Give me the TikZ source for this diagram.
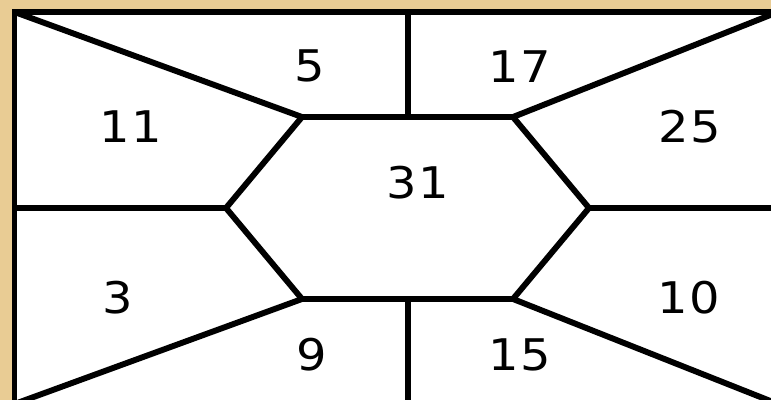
\documentclass[tikz,border=0pt]{standalone}
\usepackage{fontspec}
\setmainfont{DejaVu Sans}[FakeStretch=1.1, LetterSpace=4]
\definecolor{paper}{RGB}{233,204,148}
\begin{document}
\begin{tikzpicture}[x=0.025cm, y=-0.025cm,
  wall/.style={line width=4.2pt},
  num/.style={font=\fontsize{31}{34}\selectfont, inner sep=0pt},
]
  \useasboundingbox (0,0) rectangle (771,400);
  \clip (0,0) rectangle (771,400);
  \fill[paper] (0,0) rectangle (771,400);

  % frame corners and hexagon
  \coordinate (tl) at (14.5,12);   \coordinate (tr) at (778,12);
  \coordinate (bl) at (14.5,404);  \coordinate (br) at (778,404);
  \coordinate (h1) at (302,117);   \coordinate (h2) at (513,117);
  \coordinate (h3) at (589,208);   \coordinate (h4) at (513,299);
  \coordinate (h5) at (302,299);   \coordinate (h6) at (226,208);
  \coordinate (mt) at (408,12);    \coordinate (mb) at (408,404);
  \coordinate (ml) at (14.5,208);  \coordinate (mr) at (778,208);

  \fill[white] (tl) rectangle (br);
  \draw[wall] (tl) -- (h1);
  \draw[wall] (tr) -- (h2);
  \draw[wall] (br) -- (h4);
  \draw[wall] (bl) -- (h5);
  \draw[wall] (ml) -- (h6);
  \draw[wall] (mr) -- (h3);
  \draw[wall] (mt) -- (408,117);
  \draw[wall] (mb) -- (408,299);
  \draw[wall] (h1) -- (h2) -- (h3) -- (h4) -- (h5) -- (h6) -- cycle;
  \draw[wall] (bl) -- (tl) -- (tr);

  \node[num] (n5)  at (310,66)  {5};
  \node[num] (n17) at (520,67)  {17};
  \node[num] (n11) at (131,127) {11};
  \node[num] (n25) at (690,127) {25};
  \node[num] (n31) at (418,183) {31};
  \node[num] (n3)  at (118,298) {3};
  \node[num] (n10) at (689,298) {10};
  \node[num] (n9)  at (312,355) {9};
  \node[num] (n15) at (520,355) {15};
\end{tikzpicture}
\end{document}
